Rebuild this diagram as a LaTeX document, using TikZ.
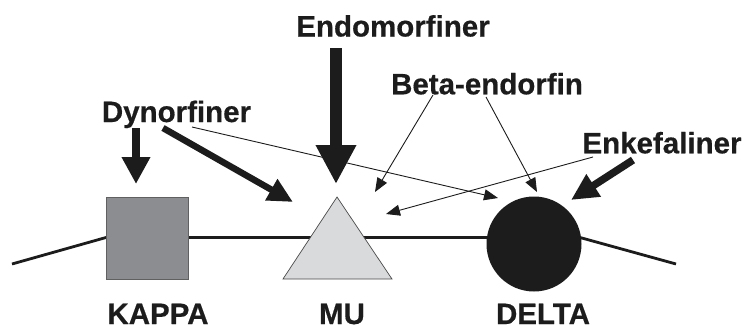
\documentclass[tikz,border=0pt]{standalone}
\usepackage{fontspec}
\setmainfont{Liberation Sans}[BoldFeatures={FakeBold=0.5}]
\usetikzlibrary{arrows.meta}
\definecolor{ink}{HTML}{1C1C1C}
\definecolor{kappafill}{HTML}{8C8D91}
\definecolor{mufill}{HTML}{D9DADC}
\tikzset{
  lbl/.style={font=\fontsize{29.5}{31}\selectfont\bfseries, text=ink, anchor=base, inner sep=0pt},
  thinarrow/.style={draw=ink, line width=0.9pt, -{Triangle[length=14pt,width=11pt]}},
  bigarrow/.style={draw=ink, line width=#1},
  backbone/.style={draw=ink, line width=2.8pt, line join=miter}
}
\begin{document}
\begin{tikzpicture}[x=1pt,y=-1pt]
\useasboundingbox (0,0) rectangle (745,327);
% backbone line
\draw[backbone] (12,264) -- (106,237.5) -- (580,237.5) -- (676,264);
% receptors
\node[draw=ink!70, line width=0.8pt, fill=kappafill, minimum size=82pt, inner sep=0pt] (kappa) at (147,238) {};
\coordinate (muL) at (283,279);
\coordinate (muR) at (392,279);
\coordinate (muT) at (337,197);
\filldraw[fill=mufill, draw=ink!80, line width=0.7pt] (muL) -- (muR) -- (muT) -- cycle;
\node[circle, fill=ink, minimum size=95pt, inner sep=0pt] (delta) at (534,244) {};
% labels
\node[lbl] (lkappa) at (158,324) {KAPPA};
\node[lbl] (lmu) at (342,324) {MU};
\node[lbl] (ldelta) at (543,324) {DELTA};
\node[lbl] (endo) at (393,36.5) {Endomorfiner};
\node[lbl] (dyn) at (176.5,122) {Dynorfiner};
\node[lbl] (beta) at (487,94.3) {Beta-endorfin};
\node[lbl] (enk) at (662,153.3) {Enkefaliner};
% arrow end points
\coordinate (kTip) at (136,184);
\coordinate (kStart) at (136,128);
\coordinate (dStart) at (163,128);
\coordinate (dTip) at (293,202);
\coordinate (eStart) at (336,48);
\coordinate (eTip) at (336,184);
\coordinate (nStart) at (633,160);
\coordinate (nTip) at (571,200);
\coordinate (d2Start) at (192,127);
\coordinate (d2Tip) at (498,198);
\coordinate (b1Start) at (433,95);
\coordinate (b1Tip) at (375,192);
\coordinate (b2Start) at (486,97);
\coordinate (b2Tip) at (537,192);
\coordinate (n2Start) at (593,157);
\coordinate (n2Tip) at (386,214);
% thick arrows
\draw[bigarrow=8pt, -{Triangle[length=27pt,width=27pt]}] (kStart) -- (kTip);
\draw[bigarrow=6.5pt, -{Triangle[length=25pt,width=23pt]}] (dStart) -- (dTip);
\draw[bigarrow=12pt, -{Triangle[length=39pt,width=38pt]}] (eStart) -- (eTip);
\draw[bigarrow=7.5pt, -{Triangle[length=27pt,width=25pt]}] (nStart) -- (nTip);
% thin arrows
\draw[thinarrow] (d2Start) -- (d2Tip);
\draw[thinarrow] (b1Start) -- (b1Tip);
\draw[thinarrow] (b2Start) -- (b2Tip);
\draw[thinarrow] (n2Start) -- (n2Tip);
\end{tikzpicture}
\end{document}
